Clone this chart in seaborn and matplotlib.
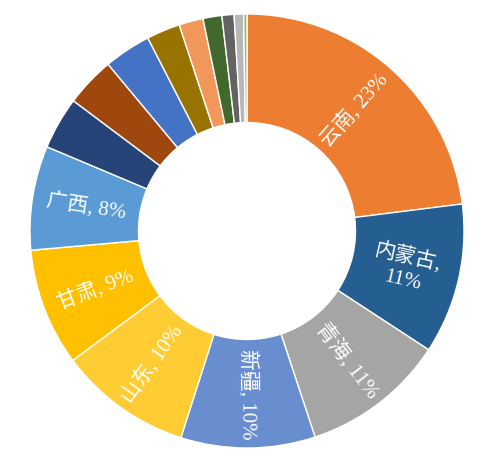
import numpy as np
import matplotlib
matplotlib.use('Agg')
import matplotlib.pyplot as plt
import seaborn as sns

provinces = ['云南', '内蒙古', '青海', '新疆', '山东', '甘肃', '广西',
             'p8', 'p9', 'p10', 'p11', 'p12', 'p13', 'p14', 'p15', 'p16']
shares = [23.0, 11.2, 10.7, 10.0, 9.9, 8.75, 7.75,
          3.9, 3.7, 3.5, 2.5, 1.8, 1.4, 0.9, 0.7, 0.25]
label_text = ['云南, 23%', '内蒙古,\n11%', '青海, 11%', '新疆, 10%',
              '山东, 10%', '甘肃, 9%', '广西, 8%']
colors = ['#ED7D31', '#255E91', '#A5A5A5', '#698ED0', '#FFCD33', '#FFC000',
          '#5B9BD5', '#264478', '#9E480E', '#4472C4', '#997300', '#F1975A',
          '#43682B', '#636363', '#B7B7B7', '#8CC168']

sns.set_theme(style='white')
plt.rcParams['font.family'] = ['Liberation Serif', 'Noto Sans CJK SC', 'DejaVu Sans']

W, H = 492, 460
cx, cy, R = 247, 232, 217  # pixel centre and outer radius

fig = plt.figure(figsize=(W / 100, H / 100), dpi=100)
ax = fig.add_axes([0, 0, 1, 1])

palette = sns.color_palette(colors)
wedges, _ = ax.pie(shares, colors=palette, startangle=90, counterclock=False,
                   radius=1, wedgeprops=dict(width=0.5, edgecolor='white', linewidth=1.0))

# labels inside the ring, turned along the radius and kept readable
for w, txt in zip(wedges, label_text):
    mid = (w.theta1 + w.theta2) / 2.0
    r = 0.75
    x = r * np.cos(np.deg2rad(mid)); y = r * np.sin(np.deg2rad(mid))
    rot = mid
    if rot > 180: rot -= 360
    if rot < -180: rot += 360
    if rot > 90: rot -= 180
    if rot < -90: rot += 180
    ax.text(x, y, txt, ha='center', va='center', rotation=rot,
            rotation_mode='anchor', color='white', fontsize=15,
            linespacing=1.25, multialignment='center')

ax.set_xlim(-cx / R, (W - cx) / R)
ax.set_ylim(-(H - cy) / R, cy / R)
ax.set_aspect('equal')
ax.axis('off')

fig.savefig('out.png', dpi=100, facecolor='white')
